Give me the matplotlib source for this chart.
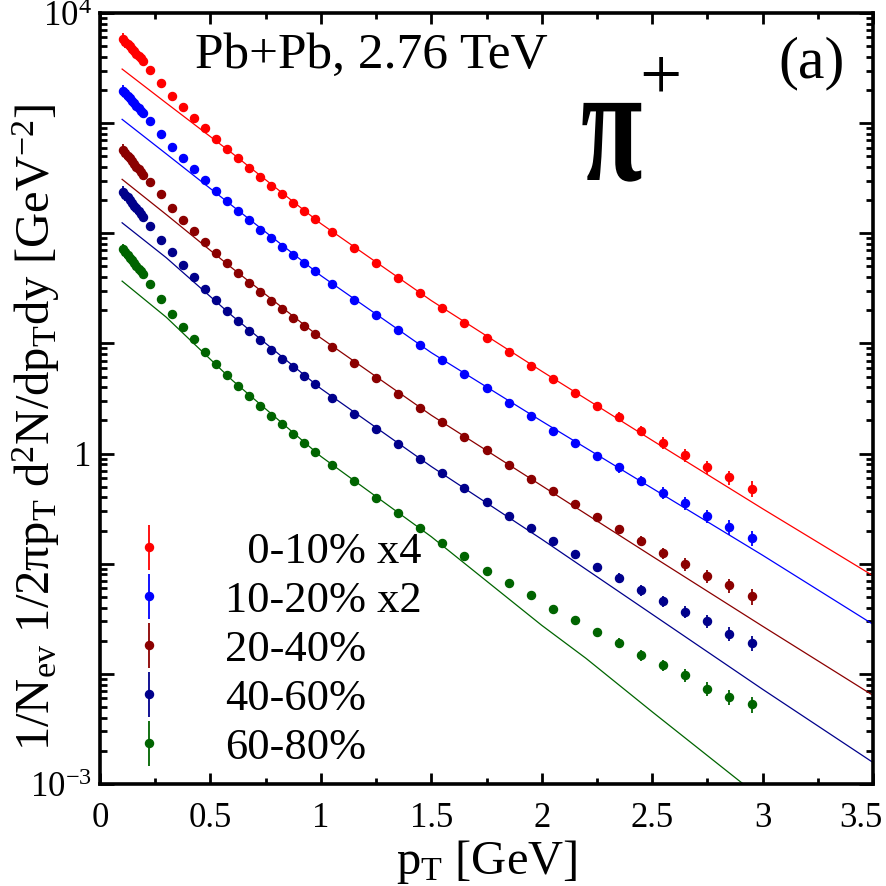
import numpy as np
import matplotlib
matplotlib.use("Agg")
import matplotlib.pyplot as plt
from matplotlib.ticker import FixedLocator, LogLocator, NullFormatter, FixedFormatter
from matplotlib.textpath import TextPath
from matplotlib.patches import PathPatch
from matplotlib.font_manager import FontProperties
from matplotlib.transforms import Affine2D, ScaledTranslation

plt.rcParams["font.family"] = ["Liberation Serif", "DejaVu Serif"]
plt.rcParams["mathtext.fontset"] = "custom"
plt.rcParams["mathtext.rm"] = "Liberation Serif"
plt.rcParams["mathtext.it"] = "Liberation Serif:italic"
plt.rcParams["mathtext.bf"] = "Liberation Serif:bold"

# pT bin centres (GeV)
pt = [0.105, 0.115, 0.125, 0.135, 0.145, 0.155, 0.165, 0.175, 0.185, 0.195,
      0.225, 0.275, 0.325, 0.375, 0.425, 0.475, 0.525, 0.575, 0.625, 0.675,
      0.725, 0.775, 0.825, 0.875, 0.925, 0.975,
      1.05, 1.15, 1.25, 1.35, 1.45, 1.55, 1.65, 1.75, 1.85, 1.95,
      2.05, 2.15, 2.25, 2.35, 2.45, 2.55, 2.65, 2.75, 2.85, 2.95]

# pi+ yields, Pb+Pb 2.76 TeV (scaled as in the legend)
c0_10 = [5806, 5510, 5229, 5015, 4760, 4517, 4287, 4112, 3902, 3703,
         3036, 2328, 1763, 1409, 1119, 897, 717, 582, 479, 393,
         326, 270, 227, 189, 159, 134,
         103, 73.8, 54.0, 39.4, 28.5, 20.8, 15.4, 11.2, 8.39, 6.26,
         4.74, 3.56, 2.70, 2.15, 1.61, 1.25, 0.967, 0.757, 0.607, 0.482]
c10_20 = [1969, 1877, 1781, 1690, 1604, 1523, 1445, 1372, 1302, 1235,
          1045, 796, 611, 485, 383, 304, 242, 196, 159, 132,
          108, 89.9, 75.4, 63.4, 53.3, 45.1,
          34.8, 24.9, 18.2, 13.2, 9.65, 7.05, 5.23, 3.90, 2.89, 2.19,
          1.62, 1.25, 0.947, 0.748, 0.565, 0.443, 0.357, 0.272, 0.215, 0.171]
c20_40 = [570, 537, 508, 479, 453, 427, 403, 381, 360, 338,
          294, 226, 170, 132, 105, 83.7, 65.7, 53.3, 43.2, 35.5,
          29.4, 24.4, 20.4, 17.1, 14.4, 12.1,
          9.31, 6.66, 4.84, 3.51, 2.58, 1.92, 1.42, 1.07, 0.780, 0.594,
          0.453, 0.345, 0.266, 0.206, 0.162, 0.125, 0.0990, 0.0770, 0.0638, 0.0507]
c40_60 = [238, 225, 212, 200, 189, 178, 168, 159, 150, 141,
          117, 87.3, 67.2, 51.2, 39.8, 31.3, 24.6, 19.8, 15.9, 13.0,
          10.7, 8.75, 7.28, 6.09, 5.08, 4.24,
          3.23, 2.31, 1.68, 1.21, 0.884, 0.660, 0.488, 0.364, 0.274, 0.209,
          0.160, 0.123, 0.0935, 0.0743, 0.0574, 0.0459, 0.0368, 0.0302, 0.0232, 0.0191]
c60_80 = [71.4, 67.5, 63.6, 60.2, 56.7, 53.6, 50.6, 47.8, 45.1, 42.6,
          34.4, 25.1, 18.7, 14.2, 10.9, 8.34, 6.49, 5.12, 4.15, 3.34,
          2.73, 2.19, 1.84, 1.51, 1.25, 1.04,
          0.780, 0.561, 0.399, 0.289, 0.211, 0.154, 0.117, 0.0855, 0.0675, 0.0515,
          0.0392, 0.0307, 0.0240, 0.0191, 0.0148, 0.0120, 0.00977, 0.00735, 0.00617, 0.00530]

# relative uncertainties per bin
rel_err = [0.13, 0.12, 0.12, 0.11, 0.11, 0.10, 0.10, 0.10, 0.09, 0.09,
           0.06, 0.05, 0.05, 0.05, 0.05, 0.05, 0.05, 0.05, 0.05, 0.05,
           0.05, 0.05, 0.05, 0.05, 0.05, 0.05,
           0.05, 0.05, 0.05, 0.05, 0.05, 0.05, 0.06, 0.06, 0.07, 0.07,
           0.08, 0.08, 0.09, 0.10, 0.11, 0.12, 0.13, 0.14, 0.15, 0.16]

# model curves
line_pt = [0.1, 0.3, 0.6, 1.0, 1.5, 2.0, 2.5, 3.0, 3.5]
line_0_10 = [3100, 1523, 530, 122.5, 24.5, 5.60, 1.32, 0.316, 0.0778]
line_10_20 = [1083, 526, 177, 41.3, 8.25, 1.97, 0.485, 0.1195, 0.0282]
line_20_40 = [309, 148, 48.0, 11.2, 2.23, 0.511, 0.117, 0.0271, 0.00639]
line_40_60 = [124.6, 60.0, 17.7, 3.89, 0.763, 0.167, 0.0348, 0.00725, 0.00157]
line_60_80_pt = [0.1, 0.3, 0.6, 1.0, 1.5, 2.0, 2.2, 2.5, 3.0, 3.5]
line_60_80 = [36.8, 17.3, 4.61, 0.943, 0.176, 0.0276, 0.01386, 0.00453, 0.000726, 0.000115]

labels = ["\u20070-10% x4", "10-20% x2", "20-40%", "40-60%", "60-80%"]
colors = ["#ff0000", "#0000ff", "#8b0000", "#00008b", "#006400"]
series = [c0_10, c10_20, c20_40, c40_60, c60_80]
lines = [(line_pt, line_0_10), (line_pt, line_10_20), (line_pt, line_20_40),
         (line_pt, line_40_60), (line_60_80_pt, line_60_80)]

fig = plt.figure(figsize=(8.86, 8.86), dpi=100)
ax = fig.add_axes([0.1129, 0.1151, 0.8724, 0.8702])

for vals, lab, col in zip(series, labels, colors):
    v = np.array(vals)
    ax.errorbar(pt, v, yerr=v * np.array(rel_err), fmt="o", color=col, ms=5.8,
                elinewidth=1.3, capsize=0, label=lab, zorder=3)
for (lx, ly), col in zip(lines, colors):
    ax.plot(lx, ly, "-", color=col, lw=0.9, zorder=2)

ax.set_yscale("log")
ax.set_xlim(0, 3.5)
ax.set_ylim(1e-3, 1e4)

ax.xaxis.set_major_locator(FixedLocator([0, 0.5, 1, 1.5, 2, 2.5, 3, 3.5]))
ax.xaxis.set_major_formatter(FixedFormatter(["0", "0.5", "1", "1.5", "2", "2.5", "3", "3.5"]))
ax.xaxis.set_minor_locator(FixedLocator([0.25, 0.75, 1.25, 1.75, 2.25, 2.75, 3.25]))
ax.yaxis.set_major_locator(FixedLocator([1e-3, 1e-2, 1e-1, 1, 10, 100, 1e3, 1e4]))
ax.yaxis.set_major_formatter(FixedFormatter([r"$10^{-3}$", "", "", "1", "", "", "", r"$10^4$"]))
ax.yaxis.set_minor_locator(LogLocator(base=10, subs=np.arange(2, 10), numticks=20))
ax.yaxis.set_minor_formatter(NullFormatter())

ax.tick_params(which="both", direction="in", top=True, right=True, width=2.0)
ax.tick_params(axis="x", which="major", length=8, pad=13, labelsize=25)
ax.tick_params(axis="x", which="minor", length=4)
ax.tick_params(axis="y", which="major", length=10, pad=6, labelsize=25)
ax.tick_params(axis="y", which="minor", length=5)
for sp in ax.spines.values():
    sp.set_linewidth(2.6)

# last x tick label sits a little inside the figure edge
fig.canvas.draw()
last_lbl = ax.get_xticklabels()[-1]
last_lbl.set_transform(last_lbl.get_transform() + ScaledTranslation(-0.12, 0, fig.dpi_scale_trans))

ax.set_xlabel(r"p$_{\rm T}$ [GeV]", fontsize=35, labelpad=2)
ax.set_ylabel(r"1/N$_{\rm ev}$ 1/2πp$_{\rm T}$ d$^2$N/dp$_{\rm T}$dy [GeV$^{-2}$]",
              fontsize=35)
ax.yaxis.set_label_coords(-0.049, 0.463)

ax.text(0.123, 0.929, "Pb+Pb, 2.76 TeV", transform=ax.transAxes, fontsize=37,
        ha="left", va="baseline")
ax.text(0.964, 0.916, "(a)", transform=ax.transAxes, fontsize=43,
        ha="right", va="baseline")

# tall bold pi, stretched vertically like the original label
pi_path = TextPath((0, 0), "π", size=1,
                   prop=FontProperties(family="Liberation Serif", weight="bold"))
pi_tr = Affine2D().scale(1.12, 1.68).translate(5.81, 7.06) + fig.dpi_scale_trans
fig.patches.append(PathPatch(pi_path, transform=pi_tr, facecolor="black",
                             edgecolor="none", figure=fig))
ax.text(0.697, 0.912, "+", transform=ax.transAxes, fontsize=54,
        ha="left", va="center")

ax.legend(loc="upper left", bbox_to_anchor=(0.04, 0.327), frameon=False,
          fontsize=32, handlelength=0.8, handletextpad=1.32, labelspacing=0.2,
          borderaxespad=0, borderpad=0)

fig.savefig("out.png", dpi=100)
